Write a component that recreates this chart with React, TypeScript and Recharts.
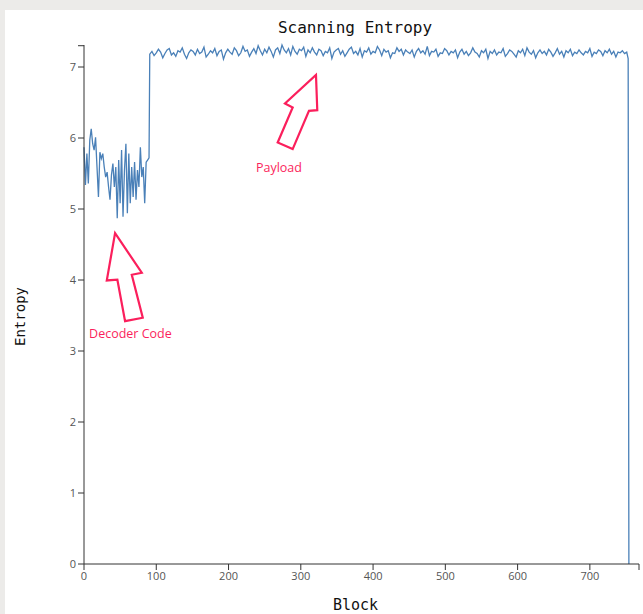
import React from 'react';
import { LineChart, Line, XAxis, YAxis, ReferenceDot } from 'recharts';

// decoder stub: one reading every 2 blocks from block 0
const decoderEntropy = [
  5.87, 5.34, 5.78, 5.36, 5.97, 6.13, 5.92, 5.83, 6.01, 5.59, 5.17, 5.8, 5.71, 5.78, 5.59,
  5.45, 5.52, 5.31, 5.13, 5.48, 5.64, 5.31, 5.59, 4.87, 5.69, 5.08, 5.83, 4.89, 5.55, 5.92,
  4.94, 5.78, 5.08, 5.59, 5.17, 5.66, 5.13, 5.55, 5.31, 5.87, 5.45, 5.59, 5.08, 5.66, 5.69,
];

// encrypted payload: one reading every 3 blocks from block 91
const payloadEntropy = [
  7.18, 7.22, 7.16, 7.2, 7.25, 7.21, 7.13, 7.19, 7.24, 7.26, 7.17, 7.2, 7.15, 7.23, 7.21, 7.27, 7.18, 7.12, 7.2, 7.24,
  7.22, 7.17, 7.25, 7.19, 7.21, 7.28, 7.14, 7.18, 7.23, 7.2, 7.26, 7.16, 7.22, 7.24, 7.11, 7.2, 7.25, 7.21, 7.18, 7.27,
  7.23, 7.16, 7.2, 7.29, 7.22, 7.24, 7.15, 7.21, 7.26, 7.19, 7.3, 7.23, 7.17, 7.25, 7.2, 7.28, 7.22, 7.14, 7.24, 7.27,
  7.19, 7.31, 7.24, 7.2, 7.26, 7.17, 7.29, 7.22, 7.18, 7.25, 7.23, 7.28, 7.15, 7.24, 7.2, 7.27, 7.21, 7.17, 7.25, 7.23,
  7.16, 7.22, 7.2, 7.27, 7.12, 7.21, 7.24, 7.26, 7.18, 7.23, 7.15, 7.2, 7.25, 7.28, 7.19, 7.22, 7.17, 7.26, 7.14, 7.23,
  7.21, 7.27, 7.18, 7.22, 7.2, 7.29, 7.24, 7.16, 7.25, 7.21, 7.23, 7.13, 7.2, 7.19, 7.27, 7.22, 7.25, 7.17, 7.24, 7.21,
  7.19, 7.24, 7.14, 7.22, 7.26, 7.2, 7.23, 7.18, 7.29, 7.16, 7.22, 7.21, 7.25, 7.15, 7.2, 7.19, 7.26, 7.23, 7.17, 7.22,
  7.2, 7.24, 7.13, 7.21, 7.25, 7.18, 7.22, 7.16, 7.2, 7.27, 7.21, 7.19, 7.14, 7.23, 7.2, 7.25, 7.12, 7.22, 7.19, 7.24,
  7.17, 7.21, 7.2, 7.26, 7.15, 7.19, 7.24, 7.22, 7.18, 7.14, 7.23, 7.2, 7.25, 7.16, 7.27, 7.21, 7.18, 7.23, 7.13, 7.2,
  7.24, 7.19, 7.22, 7.17, 7.25, 7.21, 7.15, 7.2, 7.26, 7.18, 7.22, 7.14, 7.23, 7.2, 7.25, 7.16, 7.21, 7.19, 7.24, 7.2,
  7.17, 7.22, 7.2, 7.26, 7.15, 7.21, 7.19, 7.24, 7.22, 7.16, 7.23, 7.2, 7.25, 7.18, 7.22, 7.14, 7.21, 7.2, 7.23, 7.19,
  7.21,
];

// tail of the file, then the drop to zero
const tailBlocks = [90, 753, 754];
const tailEntropy = [5.72, 7.12, 0];

const xTicks = [0, 100, 200, 300, 400, 500, 600, 700, 768];
const yTicks = [0, 1, 2, 3, 4, 5, 6, 7, 7.3];

const data = [
  ...decoderEntropy.map((v, i) => ({ block: i * 2, entropy: v })),
  { block: tailBlocks[0], entropy: tailEntropy[0] },
  ...payloadEntropy.map((v, i) => ({ block: 91 + i * 3, entropy: v })),
  { block: tailBlocks[1], entropy: tailEntropy[1] },
  { block: tailBlocks[2], entropy: tailEntropy[2] },
];

const RED = '#fb1f5c';
const MONO = '"DejaVu Sans Mono", "Liberation Mono", monospace';

const DecoderArrow = (props: any) => {
  const { cx, cy } = props;
  const pts = [[0, 0], [26.7, 39.6], [16.7, 41.6], [27.7, 84.6], [10, 88], [2.3, 46.6], [-8.3, 47.3]]
    .map(([x, y]) => `${cx + x},${cy + y}`).join(' ');
  return (
    <g>
      <polygon points={pts} fill="#fff" stroke={RED} strokeWidth={2.2} strokeLinejoin="miter" />
      <text x={cx - 26} y={cy + 105} fill={RED} fontSize={12.5} fontFamily="Open Sans">Decoder Code</text>
    </g>
  );
};

const PayloadArrow = (props: any) => {
  const { cx, cy } = props;
  const pts = [[0, 0], [1.3, 35.3], [-7, 36], [-23.3, 74.3], [-38.3, 67.7], [-23.3, 32.7], [-31, 28.7]]
    .map(([x, y]) => `${cx + x},${cy + y}`).join(' ');
  return (
    <g>
      <polygon points={pts} fill="#fff" stroke={RED} strokeWidth={2.2} strokeLinejoin="miter" />
      <text x={cx - 60} y={cy + 97} fill={RED} fontSize={12.5} fontFamily="Open Sans">Payload</text>
    </g>
  );
};

const XTick = (p: any) => {
  const v = p.payload.value;
  if (v === 768) return <g />;
  return (
    <text x={p.x} y={p.y} dy="0.71em" textAnchor="middle" fill="#555" fontSize={11} fontFamily="Open Sans">{v}</text>
  );
};

const YTick = (p: any) => {
  const v = p.payload.value;
  if (v === 7.3) return <g />;
  return (
    <text x={p.x} y={p.y} dy="0.34em" textAnchor="end" fill="#555" fontSize={11} fontFamily="Open Sans">{v}</text>
  );
};

export default function App() {
  return (
    <div style={{ position: 'absolute', left: 0, top: 0, width: 643, height: 614, background: '#ecebe9', overflow: 'hidden' }}>
      <div style={{ position: 'absolute', left: 5, top: 10, width: 638, height: 604, background: '#fff' }}>
        <div
          style={{
            position: 'absolute', left: 250, top: 10, width: 200, textAlign: 'center',
            fontFamily: MONO, fontSize: 16, lineHeight: '16px', color: '#111',
          }}
        >
          Scanning Entropy
        </div>
        <LineChart width={638} height={604} data={data} margin={{ top: 35, right: 4, bottom: 0, left: 0 }}>
          <XAxis
            dataKey="block"
            type="number"
            domain={[0, 768]}
            ticks={xTicks}
            interval={0}
            height={50}
            tickSize={6}
            tick={XTick}
            stroke="#333"
            label={{
              content: (p: any) => {
                const vb = p.viewBox;
                return (
                  <text x={vb.x + vb.width / 2 - 6} y={vb.y + vb.height - 4} textAnchor="middle"
                    fontFamily={MONO} fontSize={15} fill="#111">Block</text>
                );
              },
            }}
          />
          <YAxis
            type="number"
            domain={[0, 7.3]}
            ticks={yTicks}
            interval={0}
            width={79}
            tickSize={6}
            tick={YTick}
            stroke="#333"
            label={{
              content: (p: any) => {
                const vb = p.viewBox;
                const y = vb.y + vb.height / 2 + 12;
                return (
                  <text x={20} y={y} textAnchor="middle" transform={`rotate(-90, 20, ${y})`}
                    fontFamily={MONO} fontSize={14} fill="#111">Entropy</text>
                );
              },
            }}
          />
          <Line
            type="linear"
            dataKey="entropy"
            stroke="#4a80b8"
            strokeWidth={1.3}
            dot={false}
            isAnimationActive={false}
          />
          <ReferenceDot x={43} y={4.66} r={0} ifOverflow="visible" shape={DecoderArrow} />
          <ReferenceDot x={321} y={6.89} r={0} ifOverflow="visible" shape={PayloadArrow} />
        </LineChart>
      </div>
    </div>
  );
}
